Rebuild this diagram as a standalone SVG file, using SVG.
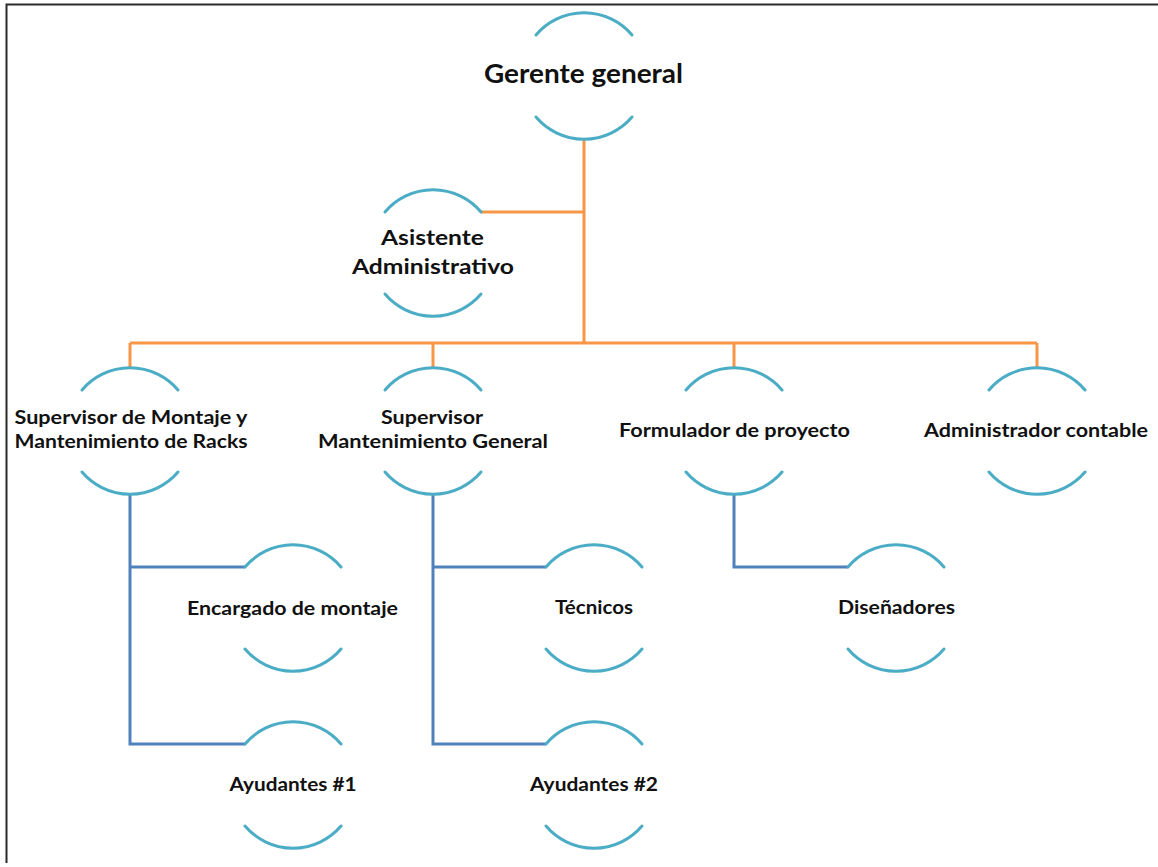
<svg xmlns="http://www.w3.org/2000/svg" width="1158" height="867" viewBox="0 0 1158 867">
<style>
.arc{fill:none;stroke:#4BACC6;stroke-width:3;stroke-linecap:round}
.or{fill:none;stroke:#F79646;stroke-width:3}
.bl{fill:none;stroke:#4F81BD;stroke-width:3}
.t{font-family:Lato,"Liberation Sans",sans-serif;font-weight:700;font-size:19px;fill:#111;text-anchor:middle}
.big{font-size:26px}
</style>
<defs>
<g id="shape">
<path class="arc" d="M-48,-41 A63,63 0 0 1 48,-41"/>
<path class="arc" d="M-48,41 A63,63 0 0 0 48,41"/>
</g>
</defs>
<rect width="1158" height="867" fill="#fff"/>
<path d="M6.5,863 V4.5 H1158" fill="none" stroke="#2a2a2a" stroke-width="2"/>
<g id="connectors">
<path class="or" d="M584,139 V343 M481,212 H584 M130,343 H1037 M130,343 V368 M433,343 V368 M734,343 V368 M1037,343 V368"/>
<path class="bl" d="M130,494 V744 H245 M130,567 H245 M433,494 V744 H546 M433,567 H546 M734,494 V567 H848"/>
</g>
<g id="n-gerente"><use href="#shape" x="584" y="76"/><text class="t big" x="583.5" y="83" textLength="199" lengthAdjust="spacingAndGlyphs">Gerente general</text></g>
<g id="n-asistente"><use href="#shape" x="433" y="253"/><text class="t" x="432.5" y="245" textLength="103" lengthAdjust="spacingAndGlyphs" style="font-size:20px">Asistente</text><text class="t" x="433" y="274" textLength="162" lengthAdjust="spacingAndGlyphs" style="font-size:20px">Administrativo</text></g>
<g id="n-sup1"><use href="#shape" x="130" y="431"/><text class="t" x="131" y="424" textLength="233" lengthAdjust="spacingAndGlyphs">Supervisor de Montaje y</text><text class="t" x="131" y="448" textLength="233" lengthAdjust="spacingAndGlyphs">Mantenimiento de Racks</text></g>
<g id="n-sup2"><use href="#shape" x="433" y="431"/><text class="t" x="432" y="424" textLength="102" lengthAdjust="spacingAndGlyphs">Supervisor</text><text class="t" x="433" y="448" textLength="230" lengthAdjust="spacingAndGlyphs">Mantenimiento General</text></g>
<g id="n-form"><use href="#shape" x="734" y="431"/><text class="t" x="734.5" y="437" textLength="231" lengthAdjust="spacingAndGlyphs">Formulador de proyecto</text></g>
<g id="n-admin"><use href="#shape" x="1037" y="431"/><text class="t" x="1036" y="437" textLength="224" lengthAdjust="spacingAndGlyphs">Administrador contable</text></g>
<g id="n-encargado"><use href="#shape" x="293" y="608"/><text class="t" x="292.5" y="615" textLength="211" lengthAdjust="spacingAndGlyphs">Encargado  de montaje</text></g>
<g id="n-ayud1"><use href="#shape" x="293" y="785"/><text class="t" x="293" y="791" textLength="127" lengthAdjust="spacingAndGlyphs">Ayudantes #1</text></g>
<g id="n-tecnicos"><use href="#shape" x="594" y="608"/><text class="t" x="594" y="614" textLength="78" lengthAdjust="spacingAndGlyphs">Técnicos</text></g>
<g id="n-ayud2"><use href="#shape" x="594" y="785"/><text class="t" x="594" y="791" textLength="128" lengthAdjust="spacingAndGlyphs">Ayudantes #2</text></g>
<g id="n-disen"><use href="#shape" x="896" y="608"/><text class="t" x="896.5" y="614" textLength="117" lengthAdjust="spacingAndGlyphs">Diseñadores</text></g>
</svg>
